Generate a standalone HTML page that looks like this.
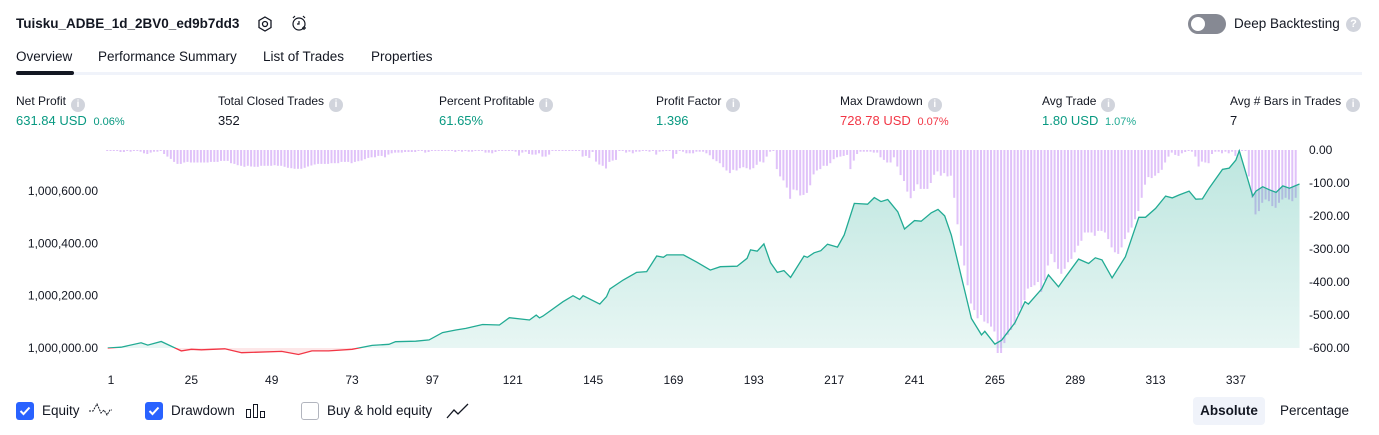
<!DOCTYPE html>
<html><head><meta charset="utf-8"><style>
body{margin:0;width:1379px;height:435px;background:#fff;font-family:"Liberation Sans",sans-serif;color:#131722;position:relative;overflow:hidden}
.a{position:absolute;white-space:nowrap}
.lbl{font-size:12px;color:#131722;top:94px}
.val{font-size:13px;top:113px}
.info{display:inline-block;width:14px;height:14px;border-radius:50%;background:#d1d4dc;color:#fff;font-size:10px;text-align:center;line-height:14px;vertical-align:-2px;margin-left:5px;font-weight:bold}
.g{color:#089981}.r{color:#f23645}
.tab{top:49px;font-size:13.5px}
.cb{position:absolute;top:402px;width:18px;height:18px;border-radius:3px;background:#2962ff}
.cb svg{position:absolute;left:3px;top:4px}
</style></head><body>
<div class="a" style="left:16px;top:16px;font-size:13.5px;font-weight:bold">Tuisku_ADBE_1d_2BV0_ed9b7dd3</div>
<svg class="a" style="left:256px;top:15px" width="18" height="18"><polygon points="9,2 15,5.5 15,12.5 9,16 3,12.5 3,5.5" fill="none" stroke="#131722" stroke-width="1.3"/><circle cx="9" cy="9" r="2.5" fill="none" stroke="#131722" stroke-width="1.3"/></svg>
<svg class="a" style="left:290px;top:14px" width="18" height="19"><circle cx="9" cy="10" r="6" fill="none" stroke="#131722" stroke-width="1.2"/><path d="M9 7v3h-2M3 4l2-2M15 4l-2-2M12 14h4M14 12v4" stroke="#131722" stroke-width="1.2" fill="none"/></svg>
<div class="a" style="left:1188px;top:14px;width:38px;height:20px;border-radius:10px;background:#868993"><div style="position:absolute;left:3px;top:3px;width:14px;height:14px;border-radius:50%;background:#fff"></div></div>
<div class="a" style="left:1234px;top:16px;font-size:13.5px">Deep Backtesting</div>
<div class="a" style="left:1346px;top:17px;width:15px;height:15px;border-radius:50%;background:#d1d4dc;color:#fff;font-size:11px;text-align:center;line-height:15px;font-weight:bold">?</div>
<div class="a tab" style="left:16px">Overview</div>
<div class="a tab" style="left:98px">Performance Summary</div>
<div class="a tab" style="left:263px">List of Trades</div>
<div class="a tab" style="left:371px">Properties</div>
<div class="a" style="left:16px;top:72px;width:1346px;height:3px;background:#f0f3fa"></div>
<div class="a" style="left:16px;top:71px;width:58px;height:4px;border-radius:2px;background:#131722"></div>

<div class="a lbl" style="left:16px">Net Profit<span class="info">i</span></div>
<div class="a val g" style="left:16px">631.84 USD <span style="font-size:11px;margin-left:3px">0.06%</span></div>
<div class="a lbl" style="left:218px">Total Closed Trades<span class="info">i</span></div>
<div class="a val" style="left:218px">352</div>
<div class="a lbl" style="left:439px">Percent Profitable<span class="info">i</span></div>
<div class="a val g" style="left:439px">61.65%</div>
<div class="a lbl" style="left:656px">Profit Factor<span class="info">i</span></div>
<div class="a val g" style="left:656px">1.396</div>
<div class="a lbl" style="left:840px">Max Drawdown<span class="info">i</span></div>
<div class="a val r" style="left:840px">728.78 USD <span style="font-size:11px;margin-left:3px">0.07%</span></div>
<div class="a lbl" style="left:1042px">Avg Trade<span class="info">i</span></div>
<div class="a val g" style="left:1042px">1.80 USD <span style="font-size:11px;margin-left:3px;color:#22ab94">1.07%</span></div>
<div class="a lbl" style="left:1230px">Avg # Bars in Trades<span class="info">i</span></div>
<div class="a val" style="left:1230px">7</div>

<svg id="chart" class="a" style="left:0;top:0" width="1379" height="395">
<defs>
<linearGradient id="tg" x1="0" y1="0" x2="0" y2="1"><stop offset="0" stop-color="#22ab94" stop-opacity="0.3"/><stop offset="1" stop-color="#22ab94" stop-opacity="0.1"/></linearGradient>
<clipPath id="above"><rect x="0" y="0" width="1379" height="348"/></clipPath>
<clipPath id="below"><rect x="0" y="348" width="1379" height="40"/></clipPath>
</defs>
<g id="bars"></g><g id="eq"></g><g id="axes" font-family="Liberation Sans" font-size="12" fill="#131722"></g>
</svg>

<div class="cb" style="left:16px"><svg width="12" height="10"><path d="M1.5 5l3 3 6-6.5" stroke="#fff" stroke-width="2" fill="none"/></svg></div>
<div class="a" style="left:42px;top:403px;font-size:13.5px">Equity</div>
<svg class="a" style="left:88px;top:401px" width="24" height="20"><path d="M1 10h4l4-7 4 9 3-3 3 5 3-5h2" stroke="#131722" stroke-dasharray="2 1" fill="none"/></svg>
<div class="cb" style="left:145px"><svg width="12" height="10"><path d="M1.5 5l3 3 6-6.5" stroke="#fff" stroke-width="2" fill="none"/></svg></div>
<div class="a" style="left:171px;top:403px;font-size:13.5px">Drawdown</div>
<svg class="a" style="left:245px;top:402px" width="22" height="18"><rect x="1.5" y="7.5" width="4" height="8" fill="none" stroke="#131722"/><rect x="8.5" y="2.5" width="4" height="13" fill="none" stroke="#131722"/><rect x="15.5" y="9.5" width="4" height="6" fill="none" stroke="#131722"/></svg>
<div class="a" style="left:301px;top:402px;width:16px;height:16px;border:1px solid #b2b5be;border-radius:3px"></div>
<div class="a" style="left:327px;top:403px;font-size:13.5px">Buy &amp; hold equity</div>
<svg class="a" style="left:446px;top:402px" width="24" height="18"><path d="M1 16l7-8 4 4 10-10" stroke="#131722" stroke-width="1.3" fill="none"/></svg>
<div class="a" style="left:1193px;top:397px;width:72px;height:28px;border-radius:4px;background:#f0f3fa;font-size:13.5px;font-weight:bold;text-align:center;line-height:28px">Absolute</div>
<div class="a" style="left:1280px;top:403px;font-size:13.5px">Percentage</div>

<script>
const eqTrades=[0,4,10,12,16,22,25,28,35,40,52,57,61,66,73,79,84,86,92,96,100,104,107,112,117,120,126,128,129,130,136,139,141,142,147,149,150,154,158,161,164,166,167,172,176,180,183,188,191,192,194,196,198,200,202,204,208,209,211,213,215,218,220,223,227,229,231,233,236,238,241,243,246,248,250,252,258,261,262,265,267,271,274,275,279,281,284,286,290,293,295,297,300,304,308,310,313,316,318,320,323,325,327,329,333,335,337,338,340,342,343,345,347,349,351,353,356];
const eqValues=[0,3,20,11,25,-11,-5,-7,-3,-18,-13,-25,-11,-11,-5,10,14,24,26,31,59,69,75,90,88,116,107,126,115,122,177,200,186,200,168,196,226,260,289,292,352,347,356,356,328,298,311,313,343,375,370,398,326,289,296,270,352,347,364,372,397,386,432,553,550,575,560,568,521,455,487,485,517,530,505,432,113,50,64,15,30,97,177,168,226,280,234,270,340,323,345,337,268,349,500,500,534,581,574,585,600,569,570,611,683,688,719,754,668,581,600,617,605,595,620,611,627];
const ddValues=[2,2,2,2,6,6,2,5,2,2,5,10,12,8,5,5,2,12,20,27,36,42,42,38,36,38,38,38,38,38,38,36,36,36,33,33,33,40,42,46,48,51,48,50,51,51,48,48,48,48,46,48,48,51,54,55,57,57,57,54,50,47,44,42,42,42,42,40,40,40,36,36,36,40,36,34,32,28,24,22,22,18,18,22,14,10,8,8,8,6,6,6,6,3,3,8,6,2,2,2,2,2,2,2,6,2,5,2,5,5,2,2,2,8,8,10,6,3,
2,2,2,2,5,17,8,5,12,14,14,10,20,20,14,2,2,3,3,3,2,2,2,2,20,18,24,6,35,44,48,56,36,32,30,3,2,8,5,10,5,5,3,3,5,2,14,5,4,3,2,26,12,2,5,10,10,10,5,5,5,10,16,28,34,40,52,62,70,60,62,55,52,55,59,55,45,35,38,20,5,2,58,80,92,114,148,120,122,138,136,130,107,74,62,58,48,48,40,28,22,20,18,15,58,32,12,5,5,5,5,8,8,22,30,38,38,22,50,76,94,126,146,124,104,118,118,118,100,75,65,78,70,80,78,
145,225,290,350,410,465,485,510,500,520,525,535,550,615,615,585,560,545,530,500,480,455,420,415,410,400,430,395,350,315,340,360,375,360,340,330,310,290,275,250,250,250,260,245,245,250,270,295,310,315,295,270,250,235,210,185,145,105,82,85,78,70,60,38,20,8,15,18,10,6,3,5,20,50,35,38,40,12,5,5,10,5,10,5,18,6,3,2,80,145,195,185,160,150,155,170,175,160,150,145,150,155,145,140,140];
const leftTicks=[0,200,400,600];
const leftTickLabels=["1,000,000.00","1,000,200.00","1,000,400.00","1,000,600.00"];
const rightTicks=[0,-100,-200,-300,-400,-500,-600];
const rightTickLabels=["0.00","-100.00","-200.00","-300.00","-400.00","-500.00","-600.00"];
const xTicks=[1,25,49,73,97,121,145,169,193,217,241,265,289,313,337];

const NS="http://www.w3.org/2000/svg";
const x=t=>111+(t-1)*3.348;
const yE=v=>348-v*52.3/200;
const yD=v=>150-v*0.33;
function mk(tag,attrs,parent){const e=document.createElementNS(NS,tag);for(const k in attrs)e.setAttribute(k,attrs[k]);parent.appendChild(e);return e;}
const bars=document.getElementById('bars'),eq=document.getElementById('eq'),ax=document.getElementById('axes');
ddValues.forEach((v,k)=>{const tx=x(k)-1.5;if(tx>1298)return;
 const r=mk('rect',{x:tx.toFixed(1),y:yD(0),width:2,height:Math.max(1,yD(-v)-yD(0)).toFixed(1),fill:'#d6aef7','fill-opacity':'0.75'},bars);
 
 
});
let pts=eqTrades.map((t,i)=>x(t).toFixed(1)+','+yE(eqValues[i]).toFixed(1));
const area='M'+x(eqTrades[0])+',348 L'+pts.join(' L')+' L'+x(eqTrades[eqTrades.length-1])+',348 Z';
const a1=mk('path',{d:area,fill:'url(#tg)','clip-path':'url(#above)'},eq);


const a2=mk('path',{d:area,fill:'#f23645','fill-opacity':'0.12','clip-path':'url(#below)'},eq);


const l1=mk('path',{d:'M'+pts.join(' L'),fill:'none',stroke:'#22ab94','stroke-width':1.3,'clip-path':'url(#above)'},eq);


const l2=mk('path',{d:'M'+pts.join(' L'),fill:'none',stroke:'#f23645','stroke-width':1.3,'clip-path':'url(#below)'},eq);


leftTicks.forEach((v,i)=>{const t=mk('text',{x:98,y:yE(v)+4,'text-anchor':'end'},ax);t.textContent=leftTickLabels[i];
 
 });
rightTicks.forEach((v,i)=>{const t=mk('text',{x:1309,y:yD(v)+4},ax);t.textContent=rightTickLabels[i];
 
 });
xTicks.forEach(v=>{const t=mk('text',{x:x(v),y:384,'text-anchor':'middle'},ax);t.textContent=v;
 
 });
</script>
</body></html>
